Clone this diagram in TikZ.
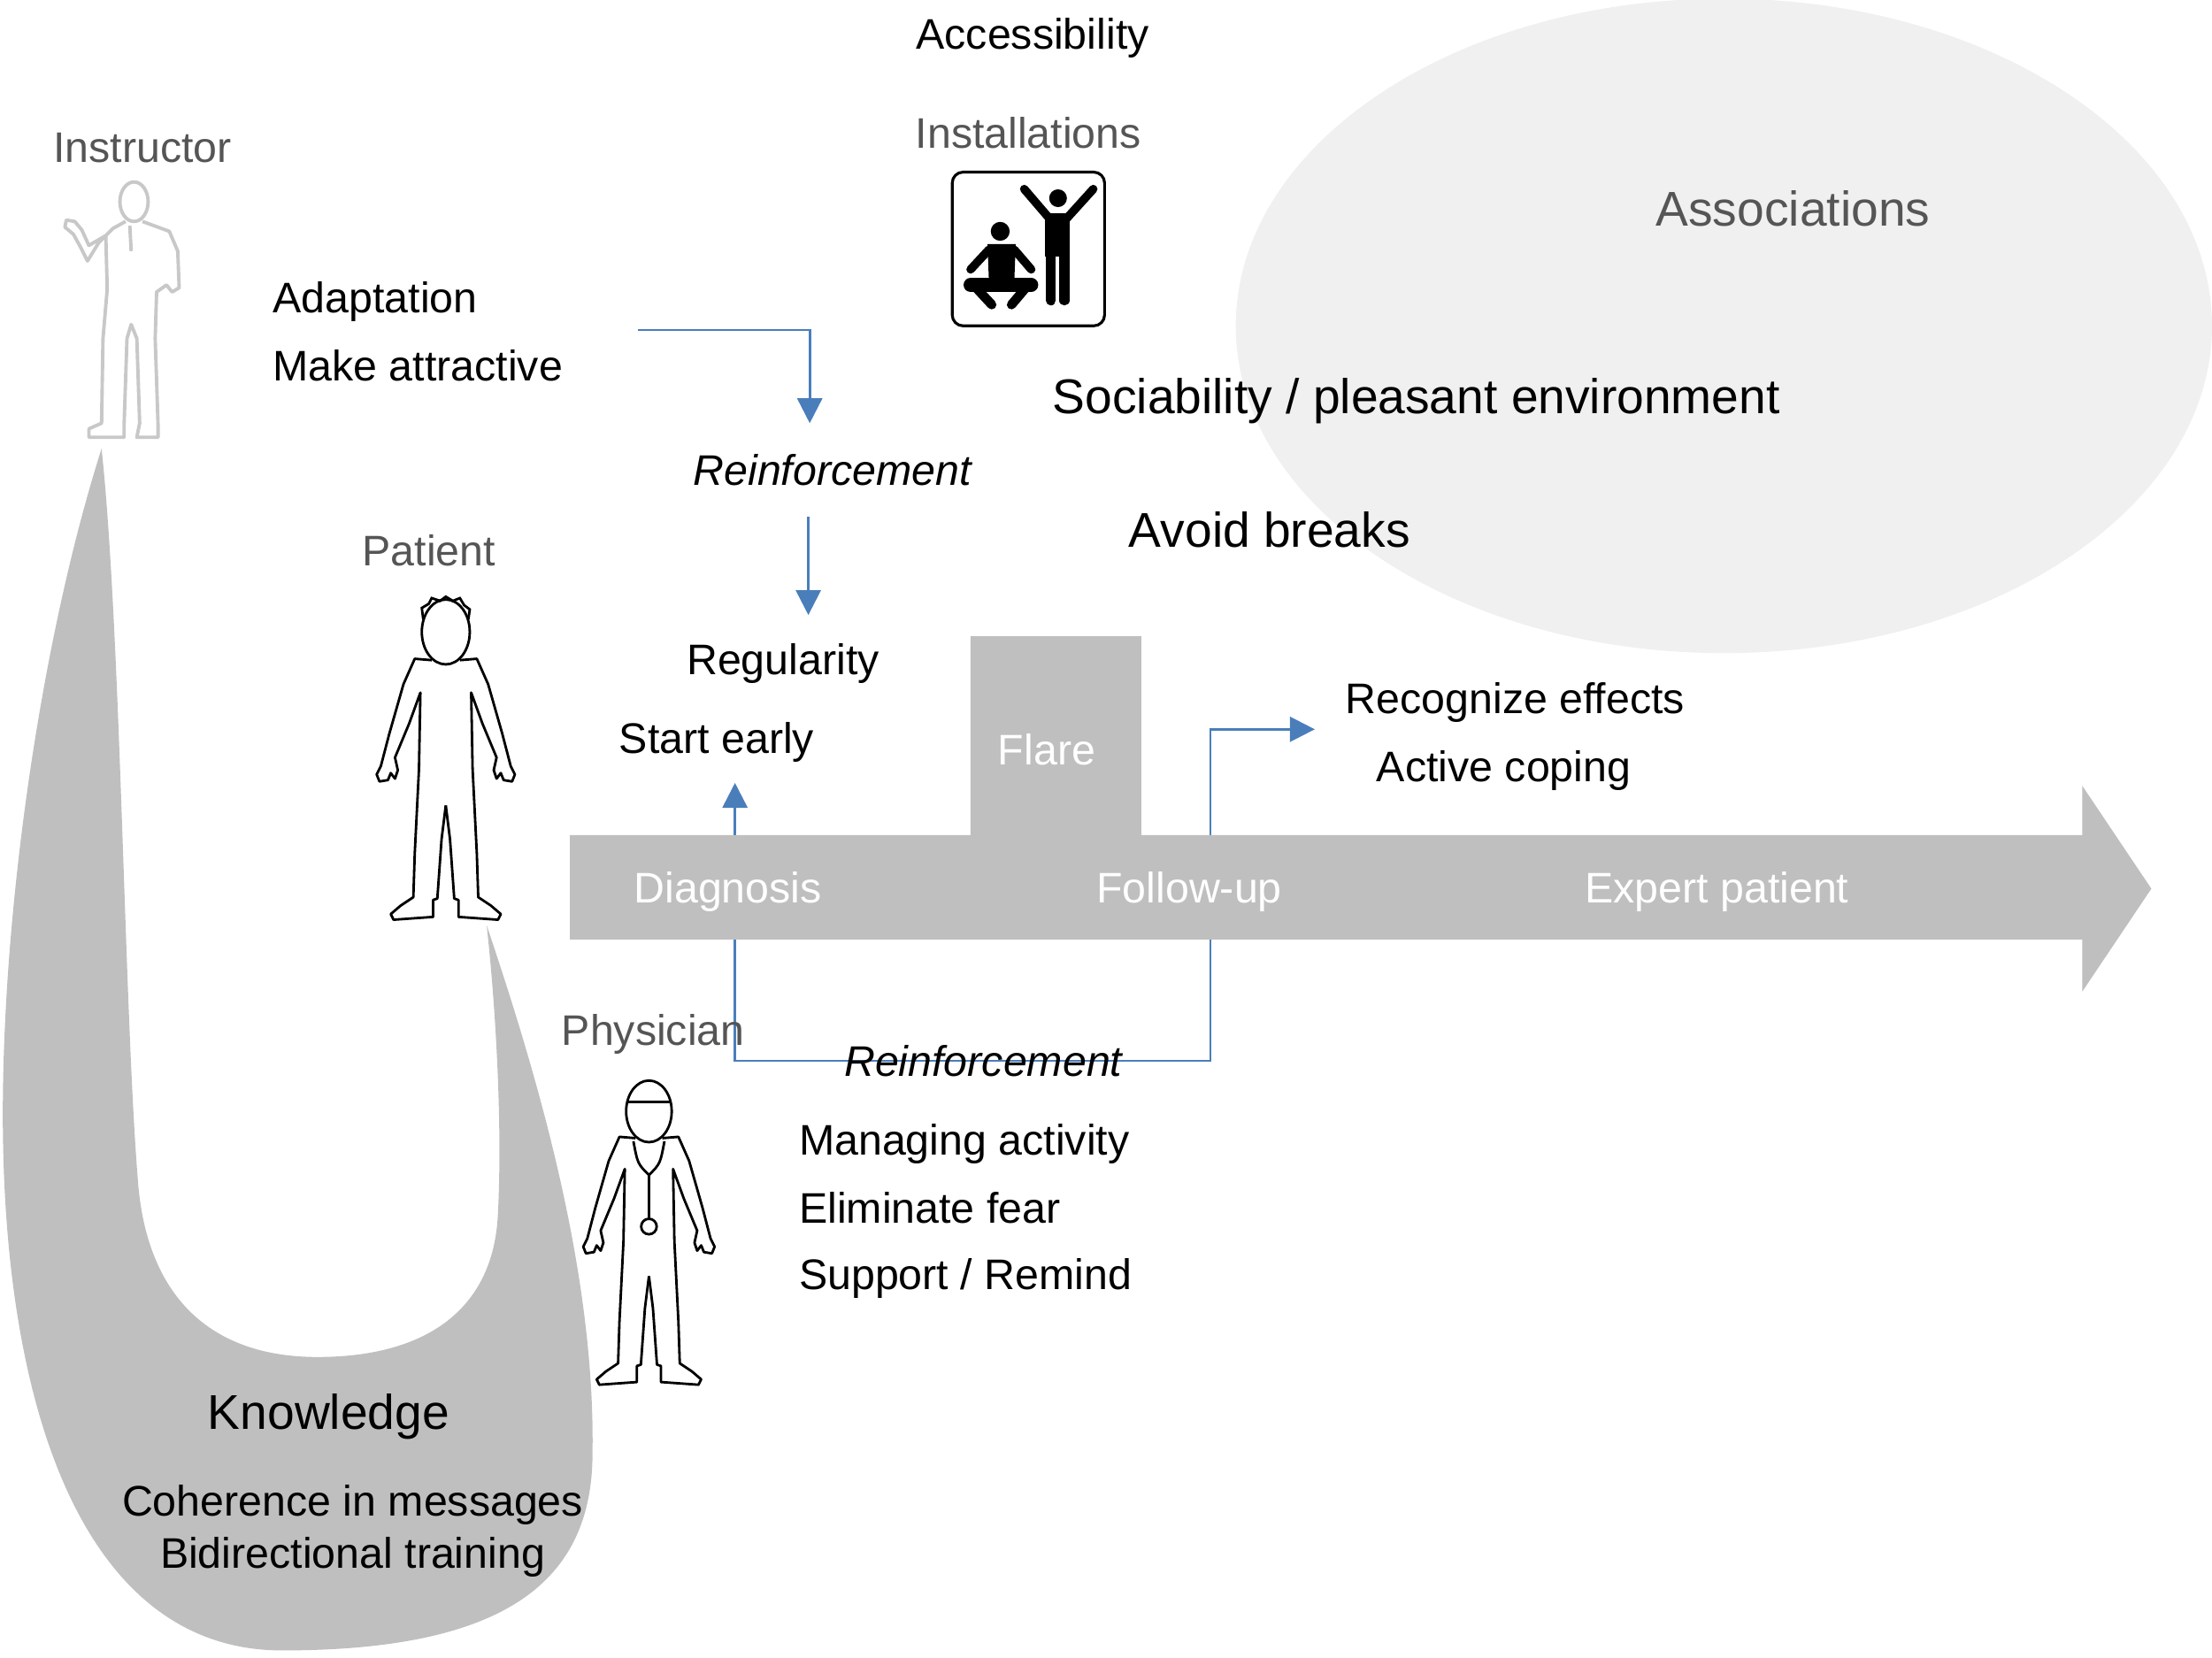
\documentclass[tikz,border=0pt]{standalone}
\usepackage{fontspec}
\setmainfont{Liberation Sans}
\usetikzlibrary{arrows.meta, positioning}
\definecolor{bandgray}{RGB}{191,191,191}
\definecolor{assocgray}{RGB}{240,240,240}
\definecolor{labelgray}{RGB}{85,85,85}
\definecolor{figgray}{RGB}{200,200,200}
\definecolor{flowblue}{RGB}{74,126,187}
\tikzset{
  txt/.style={inner sep=0pt, anchor=base, font=\fontsize{13.75}{16}\selectfont},
  big/.style={txt, font=\fontsize{15.7}{18}\selectfont},
  emph/.style={txt, font=\fontsize{13.75}{16}\selectfont\itshape},
  role/.style={txt, text=labelgray},
  stage/.style={txt, text=white},
  flow/.style={color=flowblue, line width=0.75pt, >={Triangle[length=8pt,width=8pt]}},
  person/.pic={
    \draw (0,23) ellipse (17 and 23);
    \foreach \s in {1,-1}
      \draw[xscale=\s, line join=round] (-10,43) -- (-22,42) -- (-30,60) -- (-40,95) -- (-46,118) -- (-49,124) -- (-47,129) -- (-41,128) -- (-39,123) -- (-36,127) -- (-34,121) -- (-36,112) -- (-26,88) -- (-18,66) -- (-19,120) -- (-22,180) -- (-23,211) -- (-32,217) -- (-39,223) -- (-37,227) -- (-9,225) -- (-9,213) -- (-6,212) -- (-3,170) -- (0,146);
  }
}

\begin{document}
\begin{tikzpicture}[x=0.159439mm, y=-0.159439mm]
\useasboundingbox (0,0) rectangle (1568,1175);

% associations
\fill[assocgray] (1222,231) ellipse (346 and 232);

% knowledge
\fill[bandgray] (72,318) .. controls (30,450) and (2,640) .. (2,790)
  .. controls (2,1000) and (60,1170) .. (200,1170)
  .. controls (360,1170) and (420,1120) .. (420,1030)
  .. controls (422,900) and (380,760) .. (345,656)
  .. controls (352,720) and (356,800) .. (353,860)
  .. controls (350,930) and (300,962) .. (225,962)
  .. controls (150,962) and (105,920) .. (98,840)
  .. controls (88,720) and (86,450) .. (72,318) -- cycle;

% loop under the time line
\coordinate (earlyin) at (521,555);
\coordinate (loopR) at (858,752);
\coordinate (copein) at (932,517);
\draw[flow, <->] (earlyin) |- (loopR) |- (copein);

% time line with flare
\fill[bandgray] (404,592) -- (688,592) -- (688,451) -- (809,451) -- (809,592) -- (1476,592) -- (1476,557) -- (1525,630) -- (1476,703) -- (1476,666) -- (404,666) -- cycle;
\foreach \x/\t/\n in {516/Diagnosis/diag, 843/Follow-up/follow, 1217/Expert patient/expert}
  \node[stage] (\n) at (\x,640) {\t};
\node[stage] (flare) at (742,542) {Flare};

% instructor
\draw[figgray, line width=1.1pt] (95,143) ellipse (10 and 14);
\draw[figgray, line width=1.1pt, line join=round] (89,157) -- (80,162) -- (70,172) -- (62,185) -- (57,175) -- (52,166) -- (46,161) -- (47,156) -- (53,157) -- (58,163) -- (63,174) -- (75,167) -- (76,205) -- (73,240) -- (72,300) -- (63,304) -- (63,310) -- (88,310) -- (88,300) -- (90,240) -- (93,230) -- (97,240) -- (99,300) -- (97,310) -- (112,310) -- (112,300) -- (110,240) -- (111,207) -- (118,202) -- (122,207) -- (127,204) -- (126,178) -- (120,164) -- (101,157);
\draw[figgray, line width=1.1pt] (92,160) -- (93,178);

% patient
\pic[line width=0.8pt] at (316,425) {person};
\draw[line width=0.8pt, shift={(316,425)}] (-16,14) -- (-17,6) -- (-12,3) -- (-10,-1) -- (-4,1) -- (0,-2) -- (5,1) -- (10,-1) -- (13,4) -- (17,7) -- (16,14);

% physician
\pic[line width=0.8pt, scale=0.95] at (460,766) {person};
\draw[line width=0.8pt] (444,781) -- (476,781);
\draw[line width=0.8pt] (449,809) .. controls (452,825) .. (460,833) .. controls (468,825) .. (471,809);
\draw[line width=0.8pt] (460,833) -- (460,864) (460,869.5) circle (5.5);

% installations icon
\draw[line width=0.9pt, rounded corners=3.5pt] (675,122) rectangle (783,231);
\fill (750,140.5) circle (6.3);
\draw[line width=2.7pt, line cap=round] (726,134) -- (744,155) (775,134) -- (756,155);
\fill (741,151) rectangle (758,182);
\draw[line width=3.2pt, line cap=round] (745,182) -- (745,213) (754.5,182) -- (754.5,213);
\fill (709,164) circle (6.7);
\fill (700,173) -- (720,173) -- (719,199) -- (701,199) -- cycle;
\draw[line width=2.7pt, line cap=round] (701,177) -- (688,191) (719,177) -- (731,191);
\draw[line width=4.5pt, line cap=round] (688,202) -- (731,202);
\draw[line width=3pt, line cap=round] (691,203) -- (703,216) (728,203) -- (717,216);

% texts
\node[role] (instructor) at (101,115) {Instructor};
\node[txt, anchor=base west] (adapt) at (193,222) {Adaptation};
\node[txt, anchor=base west] (attract) at (193,270) {Make attractive};
\node[txt] (access) at (732,35) {Accessibility};
\node[role] (install) at (729,105) {Installations};
\node[big, text=labelgray] (assoc) at (1271,160) {Associations};
\node[big] (social) at (1004,293) {Sociability / pleasant environment};
\node[big] (breaks) at (900,388) {Avoid breaks};
\node[emph] (reinf1) at (590,344) {Reinforcement};
\node[role] (patient) at (304,401) {Patient};
\node[txt] (regular) at (555,478) {Regularity};
\node[txt] (early) at (508,534) {Start early};
\node[txt] (recog) at (1074,506) {Recognize effects};
\node[txt] (coping) at (1066,554) {Active coping};
\node[role] (physician) at (463,741) {Physician};
\node[emph] (reinf2) at (697,763) {Reinforcement};
\foreach \y/\t/\n in {819/Managing activity/manage, 867/Eliminate fear/fear, 914/{Support / Remind}/support}
  \node[txt, anchor=base west] (\n) at (566,\y) {\t};
\node[big] (know) at (233,1013) {Knowledge};
\node[txt] (coher) at (250,1075) {Coherence in messages};
\node[txt] (bidir) at (250,1112) {Bidirectional training};

% reinforcement arrows
\coordinate (instout) at (452,234);
\coordinate (reinfin) at (574,300);
\draw[flow, ->] (instout) -| (reinfin);
\coordinate (reinfout) at (573,366);
\coordinate (regin) at (573,436);
\draw[flow, ->] (reinfout) -- (regin);
\end{tikzpicture}
\end{document}
